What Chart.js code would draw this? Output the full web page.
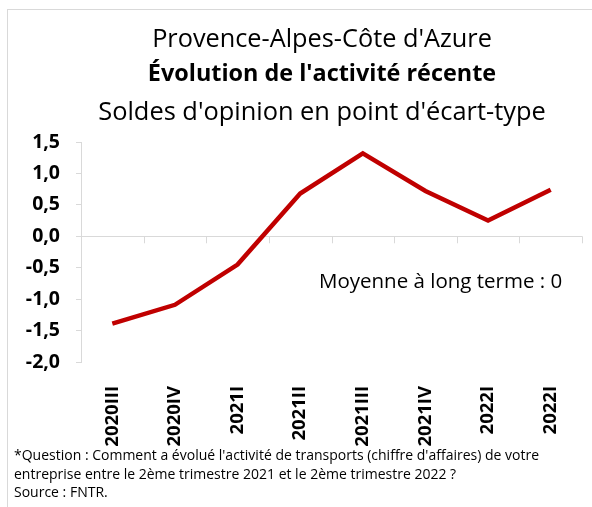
<!DOCTYPE html>
<html lang="fr">
<head>
<meta charset="utf-8">
<script src="https://cdn.jsdelivr.net/npm/chart.js@4.4.0/dist/chart.umd.min.js"></script>
<style>
    body { margin: 0; width: 592px; height: 507px; overflow: hidden; background: #fff; font-family: "Open Sans", sans-serif; color: #000; }
    .frame { position: absolute; left: 7px; top: 9px; width: 640px; height: 560px; border: 1.5px solid #d9d9d9; }
    .title { position: absolute; left: 0; width: 644px; text-align: center; line-height: 36px; white-space: nowrap; }
    .t1 { top: 19px; font-size: 25.3px; }
    .t2 { top: 54px; font-size: 23.4px; font-weight: bold; }
    .t3 { top: 92px; font-size: 25.4px; }
    .note { position: absolute; left: 319px; top: 266px; font-size: 20.5px; white-space: nowrap; }
    .foot { position: absolute; left: 14px; top: 446px; font-size: 14px; line-height: 18.5px; white-space: nowrap; }
    #wrap { position: absolute; left: 0; top: 0; width: 592px; height: 507px; }
</style>
</head>
<body>
<div class="frame"></div>
<div id="wrap"><canvas id="activityChart"></canvas></div>
<div class="title t1">Provence-Alpes-Côte d'Azure</div>
<div class="title t2">Évolution de l'activité récente</div>
<div class="title t3">Soldes d'opinion en point d'écart-type</div>
<div class="note">Moyenne à long terme : 0</div>
<div class="foot">*Question : Comment a évolué l'activité de transports (chiffre d'affaires) de votre<br>entreprise entre le 2ème trimestre 2021 et le 2ème trimestre 2022 ?<br>Source : FNTR.</div>
<script>
// Quarters and opinion balance (standard deviation points)
const quarters = ['2020III', '2020IV', '2021I', '2021II', '2021III', '2021IV', '2022I', '2022I'];
const balance = [-1.39, -1.09, -0.45, 0.68, 1.32, 0.72, 0.25, 0.74];

// Y axis range and step
const yMin = -2;
const yMax = 1.5;
const yStep = 0.5;

const axisGrey = '#d9d9d9';

// Small tick marks on the zero line, between categories
const zeroTicks = {
    id: 'zeroTicks',
    beforeDatasetsDraw(chart) {
        const x = chart.scales.x;
        const y0 = chart.scales.y.getPixelForValue(0);
        const ctx = chart.ctx;
        ctx.save();
        ctx.strokeStyle = axisGrey;
        ctx.lineWidth = 1;
        ctx.beginPath();
        for (let i = 1; i <= quarters.length; i++) {
            const px = Math.round(x.getPixelForValue(i - 0.5)) + 0.5;
            ctx.moveTo(px, y0);
            ctx.lineTo(px, y0 + 7);
        }
        ctx.stroke();
        ctx.restore();
    }
};

function formatTick(value) {
    const v = Math.abs(value) < 1e-9 ? 0 : value;
    return v.toFixed(1).replace('.', ',');
}

const ctx = document.getElementById('activityChart').getContext('2d');
new Chart(ctx, {
    type: 'line',
    data: {
        labels: quarters,
        datasets: [{
            data: balance,
            borderColor: '#c00000',
            borderWidth: 4.5,
            pointRadius: 0,
            tension: 0,
            fill: false
        }]
    },
    options: {
        responsive: true,
        maintainAspectRatio: false,
        animation: false,
        layout: { padding: { top: 142, left: 0, right: 10, bottom: 0 } },
        plugins: {
            legend: { display: false },
            tooltip: { enabled: false }
        },
        scales: {
            x: {
                offset: true,
                grid: { display: false, drawTicks: false },
                border: { display: false },
                ticks: {
                    autoSkip: false,
                    maxRotation: 90,
                    minRotation: 90,
                    padding: 24,
                    color: '#000',
                    font: { family: 'Open Sans', size: 18.5, weight: 'bold' }
                },
                afterFit(scale) {
                    scale.height = 145;
                    // rotated labels fit inside the offset, no extra side padding
                    scale.paddingLeft = 0;
                    scale.paddingRight = 0;
                }
            },
            y: {
                min: yMin,
                max: yMax,
                ticks: {
                    stepSize: yStep,
                    padding: 16,
                    color: '#000',
                    font: { family: 'Open Sans', size: 19.5, weight: 'bold' },
                    callback: formatTick
                },
                grid: {
                    tickLength: 5,
                    tickColor: axisGrey,
                    color: (c) => (c.tick && Math.abs(c.tick.value) < 1e-9) ? axisGrey : 'rgba(0,0,0,0)'
                },
                border: { color: axisGrey, width: 1 },
                afterFit(scale) { scale.width = 81; }
            }
        }
    },
    plugins: [zeroTicks]
});
</script>
</body>
</html>
